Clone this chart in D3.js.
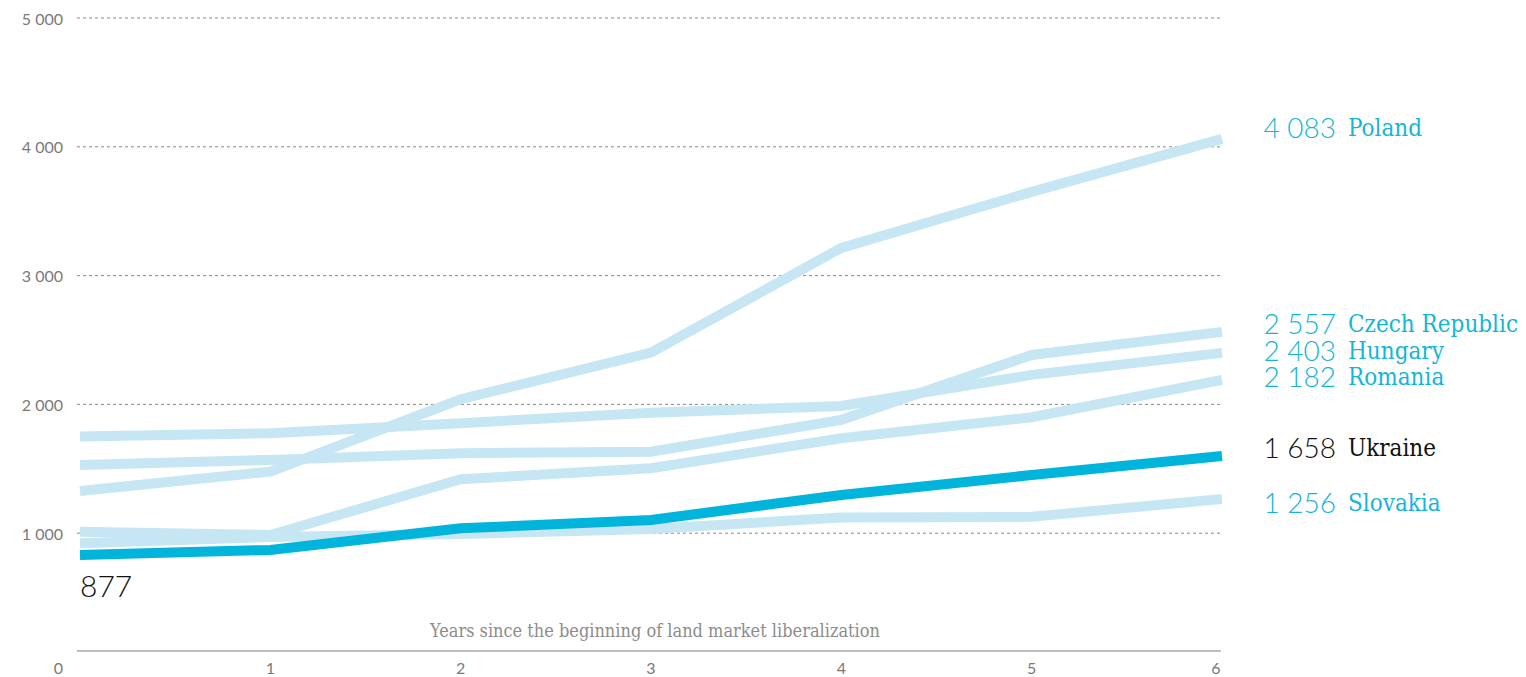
<!DOCTYPE html>
<html>
<head>
<meta charset="utf-8">
<script src="https://cdn.jsdelivr.net/npm/d3@7"></script>
<style>
  html, body { margin: 0; padding: 0; background: #fff; }
  svg { display: block; }
</style>
</head>
<body>
<svg id="chart" width="1526" height="677"></svg>
<script>
// ---- data ----
const years = [0, 1, 2, 3, 4, 5, 6];
const seriesNames = ["Poland", "Czech Republic", "Hungary", "Romania", "Slovakia", "Ukraine"];
const poland   = [1328, 1478, 2040, 2402, 3215, 3650, 4062];
const czech    = [1530, 1569, 1621, 1633, 1880, 2384, 2563];
const hungary  = [1750, 1776, 1854, 1936, 1988, 2229, 2400];
const romania  = [1012,  986, 1419, 1504, 1737, 1900, 2190];
const slovakia = [ 922,  970,  994, 1033, 1122, 1127, 1266];
const ukraine  = [ 831,  870, 1038, 1103, 1297, 1452, 1600];
const endLabels = ["4 083", "2 557", "2 403", "2 182", "1 256", "1 658"];
const startLabel = "877";
const yTicks = [0, 1000, 2000, 3000, 4000, 5000];
const yTickLabels = ["0", "1 000", "2 000", "3 000", "4 000", "5 000"];
const xTickLabels = ["1", "2", "3", "4", "5", "6"];
const axisTitle = "Years since the beginning of land market liberalization";

const seriesValues = [poland, czech, hungary, romania, slovakia, ukraine];
const series = seriesNames.map((name, i) => ({
  name, values: seriesValues[i], label: endLabels[i], highlight: name === "Ukraine"
}));

// ---- layout ----
const svg = d3.select("#chart");
const x = d3.scaleLinear().domain([0, 6]).range([80, 1222]);
const y = d3.scaleLinear().domain([0, 5000]).range([662, 18]);
const gridLeft = 77, gridRight = 1221;

const LIGHT = "#c6e6f4", DARK = "#00b4db", LABEL = "#14b5d9";
const sans = "Lato, 'Open Sans', sans-serif";
const slab = "'DejaVu Serif Condensed', 'DejaVu Serif', serif";

// gridlines
svg.append("g").selectAll("line")
  .data(yTicks.filter(d => d > 0))
  .join("line")
  .attr("x1", gridLeft).attr("x2", gridRight)
  .attr("y1", d => y(d)).attr("y2", d => y(d))
  .attr("stroke", "#8a8a8a").attr("stroke-width", 1)
  .attr("stroke-dasharray", "3,3");

// y tick labels
svg.append("g").selectAll("text")
  .data(yTicks)
  .join("text")
  .attr("x", 63)
  .attr("y", d => y(d) + (d === 0 ? 5 : 0))
  .attr("text-anchor", "end")
  .attr("dominant-baseline", "central")
  .attr("font-family", sans)
  .attr("font-size", 16).attr("fill", "#7a7a7a")
  .text((d, i) => yTickLabels[i]);

// x axis line
svg.append("line")
  .attr("x1", gridLeft).attr("x2", gridRight)
  .attr("y1", 651).attr("y2", 651)
  .attr("stroke", "#aaaaaa").attr("stroke-width", 1.5);

// x tick labels
svg.append("g").selectAll("text")
  .data(years.slice(1))
  .join("text")
  .attr("x", d => x(d) - (d === 6 ? 6 : 0))
  .attr("y", y(0) + 5)
  .attr("text-anchor", "middle")
  .attr("dominant-baseline", "central")
  .attr("font-family", sans)
  .attr("font-size", 16).attr("fill", "#7a7a7a")
  .text((d, i) => xTickLabels[i]);

// axis title
svg.append("text")
  .attr("x", 655)
  .attr("y", 637)
  .attr("text-anchor", "middle")
  .attr("font-family", slab)
  .attr("font-size", 18).attr("fill", "#8c8c8c")
  .text(axisTitle);

// lines
const line = d3.line().x((d, i) => x(years[i])).y(d => y(d));
const ordered = series.filter(s => !s.highlight).concat(series.filter(s => s.highlight));
svg.append("g").selectAll("path")
  .data(ordered)
  .join("path")
  .attr("d", d => line(d.values))
  .attr("fill", "none")
  .attr("stroke", d => d.highlight ? DARK : LIGHT)
  .attr("stroke-width", 10);

// end labels (with simple collision avoidance)
const labelNudge = { "Slovakia": 12, "Poland": -3 };
const byEnd = series.slice().sort((a, b) => b.values[6] - a.values[6]);
let prev = -Infinity;
byEnd.forEach(s => {
  let cy = y(s.values[6]) - 9;
  cy = Math.max(cy, prev + 26.8);
  prev = cy;
  s.cy = cy + (labelNudge[s.name] || 0);
});

const lg = svg.append("g");
series.forEach(s => {
  const col = s.highlight ? "#111" : LABEL;
  lg.append("text")
    .attr("x", x(6) + 114).attr("y", s.cy)
    .attr("text-anchor", "end").attr("dominant-baseline", "central")
    .attr("font-family", sans).attr("font-weight", 300)
    .attr("font-size", 28).attr("fill", col)
    .text(s.label);
  lg.append("text")
    .attr("x", x(6) + 126).attr("y", s.cy + 1)
    .attr("text-anchor", "start").attr("dominant-baseline", "central")
    .attr("font-family", slab)
    .attr("font-size", 24).attr("fill", col)
    .text(s.name);
});

// start label for Ukraine
svg.append("text")
  .attr("x", x(0))
  .attr("y", y(ukraine[0]) + 42)
  .attr("font-family", sans).attr("font-weight", 300)
  .attr("font-size", 30).attr("fill", "#111")
  .text(startLabel);
</script>
</body>
</html>
